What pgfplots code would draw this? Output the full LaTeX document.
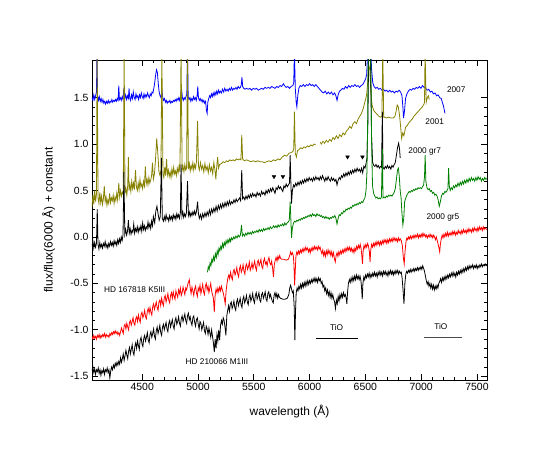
\documentclass[border=0pt]{standalone}
\usepackage{fontspec}
\setmainfont{Liberation Sans}
\usepackage{pgfplots}
\pgfplotsset{compat=1.18}
\definecolor{olivec}{RGB}{135,130,0}
\definecolor{greenc}{RGB}{0,128,0}
\begin{document}
\begin{tikzpicture}
\begin{axis}[
  name=ax, at={(0,0)}, anchor=south west,
  scale only axis, width=395bp, height=320bp,
  xmin=4050, xmax=7590, ymin=-1.54, ymax=1.905,
  xtick={4500,5000,5500,6000,6500,7000,7500},
  ytick={-1.5,-1.0,-0.5,0,0.5,1.0,1.5},
  minor x tick num=4, minor y tick num=4,
  tick align=inside, xtick pos=both, ytick pos=both,
  major tick length=6bp, minor tick length=3.5bp,
  tick style={black, line width=0.8pt},
  axis line style={line width=1pt},
  /pgf/number format/assume math mode=true,
  xticklabel style={/pgf/number format/set thousands separator={}, font=\fontsize{10.5}{12}\selectfont},
  yticklabel style={/pgf/number format/fixed, /pgf/number format/fixed zerofill, /pgf/number format/precision=1, font=\fontsize{10.5}{12}\selectfont},
  xlabel={wavelength (Å)}, ylabel={flux/flux(6000 Å) + constant},
  xlabel style={font=\fontsize{12}{14}\selectfont, at={(axis description cs:0.5,-0.1)}, anchor=center},
  ylabel style={font=\fontsize{12}{14}\selectfont, at={(axis description cs:-0.11,0.5)}, anchor=center},
  unbounded coords=jump,
  every axis plot/.append style={line width=0.8pt},
]
% 2007 (blue)
\addplot[blue] coordinates {
(4050,1.50) (4058,1.47) (4066,1.53) (4074,1.48) (4082,1.52) (4090,1.56) (4095,2.00) (4100,1.52) (4108,1.47) (4116,1.51)
(4124,1.46) (4132,1.49) (4140,1.45) (4148,1.48) (4156,1.44) (4164,1.46) (4172,1.43) (4180,1.46) (4188,1.44) (4196,1.47)
(4204,1.44) (4212,1.46) (4220,1.45) (4228,1.48) (4236,1.45) (4244,1.47) (4252,1.46) (4260,1.48) (4268,1.46) (4276,1.49)
(4284,1.47) (4290,1.63) (4296,1.48) (4304,1.50) (4312,1.47) (4320,1.51) (4328,1.48) (4336,1.60) (4344,1.49) (4352,1.53)
(4360,1.48) (4368,1.52) (4376,1.49) (4382,1.60) (4388,1.50) (4396,1.47) (4404,1.53) (4412,1.49) (4420,1.56) (4428,1.50)
(4436,1.48) (4444,1.54) (4452,1.50) (4460,1.52) (4468,1.48) (4476,1.53) (4484,1.50) (4492,1.55) (4500,1.51) (4508,1.49)
(4516,1.54) (4524,1.50) (4532,1.53) (4540,1.51) (4548,1.55) (4556,1.52) (4564,1.50) (4572,1.54) (4580,1.52) (4588,1.56)
(4596,1.55) (4604,1.60) (4612,1.66) (4620,1.74) (4628,1.80) (4636,1.77) (4644,1.65) (4652,1.56) (4660,1.52) (4668,1.50)
(4676,1.58) (4684,1.50) (4692,1.47) (4700,1.49) (4708,1.45) (4716,1.47) (4724,1.44) (4732,1.46) (4740,1.45) (4748,1.47)
(4756,1.44) (4764,1.46) (4772,1.45) (4780,1.47) (4788,1.46) (4796,1.48) (4804,1.46) (4812,1.49) (4820,1.47) (4828,1.50)
(4836,1.47) (4844,1.52) (4852,1.60) (4860,1.50) (4868,1.47) (4876,1.50) (4884,1.48) (4892,1.51) (4900,1.54) (4906,2.00)
(4912,1.51) (4920,1.48) (4928,1.50) (4936,1.46) (4944,1.49) (4952,1.47) (4960,1.51) (4968,1.48) (4976,1.50) (4984,1.47)
(4992,1.52) (4998,1.62) (5004,1.50) (5012,1.47) (5020,1.49) (5028,1.46) (5036,1.48) (5044,1.45) (5052,1.47) (5060,1.44)
(5068,1.46) (5076,1.36) (5082,1.33) (5088,1.45) (5096,1.49) (5104,1.52) (5112,1.50) (5120,1.54) (5128,1.51) (5136,1.55)
(5144,1.52) (5152,1.56) (5160,1.53) (5168,1.57) (5176,1.54) (5184,1.58) (5192,1.55) (5200,1.57) (5210,1.55) (5220,1.59)
(5230,1.56) (5240,1.60) (5250,1.57) (5260,1.59) (5270,1.57) (5280,1.60) (5290,1.58) (5300,1.61) (5310,1.58) (5320,1.60)
(5330,1.59) (5340,1.61) (5350,1.59) (5360,1.62) (5370,1.60) (5380,1.61) (5388,1.64) (5394,1.72) (5400,1.62) (5410,1.60)
(5420,1.59) (5435,1.60) (5450,1.59) (5465,1.60) (5480,1.58) (5495,1.60) (5510,1.59) (5525,1.60) (5540,1.58) (5555,1.59)
(5570,1.60) (5585,1.59) (5600,1.61) (5615,1.60) (5630,1.61) (5645,1.60) (5660,1.62) (5675,1.61) (5690,1.60) (5705,1.62)
(5720,1.61) (5735,1.63) (5750,1.62) (5765,1.65) (5775,1.63) (5790,1.61) (5805,1.62) (5820,1.60) (5835,1.62) (5850,1.63)
(5858,1.66) (5864,2.00) (5872,1.60) (5880,1.45) (5886,1.40) (5894,1.52) (5904,1.60) (5916,1.63) (5930,1.62) (5944,1.64)
(5958,1.62) (5972,1.64) (5986,1.63) (6000,1.65) (6014,1.63) (6028,1.64) (6042,1.62) (6056,1.64) (6070,1.62) (6084,1.60)
(6098,1.58) (6112,1.56) (6126,1.55) (6140,1.57) (6154,1.54) (6168,1.56) (6182,1.54) (6196,1.56) (6210,1.53) (6224,1.55)
(6236,1.52) (6246,1.47) (6256,1.53) (6268,1.57) (6280,1.58) (6294,1.60) (6308,1.59) (6322,1.62) (6336,1.60) (6350,1.63)
(6364,1.61) (6378,1.63) (6392,1.62) (6406,1.64) (6420,1.62) (6434,1.63) (6448,1.61) (6462,1.63) (6476,1.64) (6490,1.67)
(6502,1.70) (6512,1.75) (6520,2.00) (6548,2.00) (6556,1.80) (6566,1.66) (6578,1.62) (6592,1.60) (6606,1.61) (6620,1.59)
(6634,1.60) (6648,1.58) (6662,1.59) (6676,1.57) (6690,1.58) (6704,1.56) (6718,1.58) (6732,1.56) (6746,1.57) (6760,1.55)
(6774,1.57) (6788,1.56) (6802,1.58) (6816,1.56) (6828,1.52) (6836,1.40) (6842,1.28) (6850,1.35) (6860,1.49) (6872,1.54)
(6886,1.57) (6900,1.59) (6914,1.58) (6928,1.60) (6942,1.59) (6956,1.61) (6970,1.60) (6984,1.62) (6998,1.60) (7012,1.63)
(7026,1.61) (7040,1.60) (7054,1.58) (7068,1.59) (7082,1.56) (7096,1.57) (7110,1.54) (7124,1.55) (7138,1.52) (7152,1.53)
(7166,1.50) (7180,1.49) (7192,1.44) (7200,1.41) (7208,1.36) (7214,1.33)
};
% 2001 (olive)
\addplot[olivec] coordinates {
(4050,0.32) (4058,0.45) (4066,0.35) (4074,0.50) (4082,0.38) (4090,0.46) (4096,2.00) (4104,0.42) (4112,0.36) (4120,0.48)
(4128,0.37) (4136,0.44) (4144,0.35) (4152,0.41) (4160,0.55) (4168,0.38) (4176,0.43) (4184,0.34) (4192,0.40) (4200,0.36)
(4208,0.47) (4216,0.37) (4224,0.42) (4232,0.39) (4240,0.45) (4248,0.36) (4256,0.43) (4264,0.39) (4272,0.47) (4280,0.40)
(4290,0.58) (4298,0.43) (4306,0.50) (4314,0.44) (4322,0.48) (4330,0.46) (4338,2.00) (4346,0.47) (4354,0.52) (4362,0.45)
(4370,0.55) (4376,0.86) (4382,0.50) (4390,0.56) (4398,0.49) (4406,0.60) (4414,0.52) (4422,0.58) (4430,0.51) (4440,0.72)
(4448,0.54) (4456,0.50) (4464,0.58) (4472,0.51) (4480,0.62) (4488,0.54) (4496,0.57) (4504,0.52) (4512,0.60) (4520,0.55)
(4528,0.76) (4536,0.57) (4544,0.62) (4552,0.56) (4560,0.64) (4568,0.58) (4576,0.61) (4584,0.66) (4592,0.80) (4600,0.62)
(4610,0.68) (4620,0.85) (4630,1.06) (4640,0.90) (4650,0.70) (4660,0.66) (4668,0.72) (4676,2.00) (4686,0.68) (4694,0.64)
(4702,0.75) (4710,0.66) (4718,0.84) (4726,0.67) (4734,0.72) (4742,0.65) (4750,0.70) (4758,0.64) (4766,0.73) (4774,0.67)
(4782,0.75) (4790,0.68) (4798,0.71) (4806,0.66) (4814,0.74) (4822,0.69) (4830,0.76) (4838,0.70) (4848,2.00) (4858,0.72)
(4866,0.76) (4874,0.70) (4882,0.78) (4890,0.72) (4898,0.74) (4906,2.00) (4914,0.73) (4922,0.79) (4930,0.71) (4938,0.77)
(4946,0.73) (4954,0.80) (4962,0.72) (4970,0.78) (4978,0.74) (4986,0.81) (4996,1.25) (5004,0.76) (5012,0.72) (5022,0.80)
(5032,0.73) (5042,0.77) (5052,0.70) (5062,0.79) (5072,0.72) (5082,0.76) (5092,0.69) (5102,0.78) (5112,0.71) (5122,0.75)
(5132,0.68) (5142,0.80) (5152,0.72) (5160,0.62) (5168,0.76) (5176,0.86) (5184,0.74) (5194,0.78) (5210,0.79) (5225,0.81)
(5240,0.80) (5255,0.82) (5270,0.81) (5285,0.83) (5300,0.82) (5315,0.83) (5330,0.82) (5345,0.84) (5360,0.83) (5375,0.84)
(5385,0.83) (5392,1.10) (5400,0.84) (5415,0.82) (5435,0.83) (5455,0.82) (5475,0.81) (5495,0.82) (5515,0.81) (5535,0.82)
(5555,0.81) (5575,0.81) (5595,0.80) (5615,0.81) (5635,0.82) (5655,0.81) (5675,0.83) (5695,0.82) (5715,0.84) (5735,0.83)
(5755,0.86) (5775,0.88) (5795,0.87) (5815,0.90) (5835,0.91) (5850,0.92) (5858,0.95) (5864,1.35) (5872,0.90) (5882,0.86)
(5892,0.93) (5905,0.94) (5920,0.96) (5935,0.95) (5950,0.97) (5965,0.96) (5980,0.98) (5995,0.97) (6010,0.99) (6025,0.98)
(6040,1.00) (6055,0.99) (6075,nan) (6095,1.02) (6105,1.00) (6120,1.03) (6135,1.01) (6150,1.04) (6165,1.02) (6180,1.05)
(6195,1.03) (6210,1.07) (6225,1.05) (6240,1.09) (6255,1.06) (6270,1.10) (6285,1.08) (6300,1.12) (6315,1.10) (6330,1.14)
(6345,1.16) (6360,1.19) (6375,1.17) (6390,1.22) (6405,1.24) (6420,1.22) (6435,1.27) (6450,1.30) (6465,1.33) (6480,1.38)
(6495,1.45) (6510,1.52) (6520,1.65) (6530,1.85) (6540,1.80) (6550,1.55) (6560,1.42) (6575,1.36) (6590,1.34) (6605,1.32)
(6620,1.30) (6635,1.29) (6648,1.30) (6656,2.00) (6664,1.29) (6675,1.29) (6690,1.28) (6710,1.29) (6730,1.28) (6750,1.28)
(6765,1.30) (6775,1.35) (6785,1.42) (6795,1.40) (6805,1.32) (6815,1.20) (6825,1.06) (6835,1.12) (6845,1.09) (6860,1.18)
(6875,1.20) (6890,1.23) (6905,1.25) (6920,1.27) (6935,1.30) (6950,1.32) (6965,1.34) (6980,1.36) (6995,1.38) (7010,1.40)
(7025,1.43) (7030,1.45) (7035,2.00) (7045,1.45) (7055,1.50) (7065,1.52) (7072,1.48)
};
% 2000 gr7 (black)
\addplot[black] coordinates {
(4050,-0.10) (4058,-0.04) (4066,-0.12) (4074,-0.06) (4082,-0.11) (4090,-0.07) (4097,0.30) (4104,-0.08) (4112,-0.13) (4120,-0.06)
(4128,-0.11) (4136,-0.08) (4144,-0.12) (4152,-0.07) (4160,-0.10) (4168,-0.05) (4176,-0.11) (4184,-0.08) (4192,-0.12) (4200,-0.07)
(4208,-0.10) (4216,-0.05) (4224,-0.09) (4232,-0.06) (4240,-0.10) (4248,-0.04) (4256,-0.08) (4264,-0.05) (4272,-0.09) (4280,-0.03)
(4288,-0.07) (4296,-0.02) (4304,-0.06) (4312,0.00) (4320,-0.04) (4328,0.02) (4336,0.70) (4344,0.03) (4352,0.08) (4360,0.02)
(4368,0.06) (4376,0.18) (4384,0.04) (4392,0.09) (4400,0.03) (4408,0.07) (4416,0.05) (4424,0.14) (4432,0.04) (4440,0.09)
(4448,0.06) (4456,0.11) (4464,0.05) (4472,0.10) (4480,0.07) (4488,0.12) (4496,0.06) (4504,0.15) (4512,0.08) (4520,0.12)
(4528,0.07) (4536,0.11) (4544,0.09) (4552,0.16) (4560,0.10) (4568,0.14) (4576,0.09) (4584,0.17) (4592,0.12) (4600,0.22)
(4612,0.15) (4622,0.28) (4632,0.33) (4642,0.25) (4652,0.18) (4662,0.22) (4672,0.85) (4680,0.20) (4690,0.17) (4698,0.22)
(4706,0.18) (4714,0.24) (4722,0.19) (4730,0.21) (4738,0.17) (4746,0.23) (4754,0.19) (4762,0.22) (4770,0.18) (4778,0.24)
(4786,0.20) (4794,0.23) (4802,0.19) (4810,0.25) (4818,0.21) (4826,0.24) (4834,0.20) (4842,0.26) (4848,0.78) (4856,0.22)
(4864,0.27) (4872,0.21) (4880,0.25) (4888,0.22) (4896,0.26) (4906,0.60) (4914,0.23) (4922,0.27) (4930,0.22) (4938,0.26)
(4946,0.23) (4954,0.27) (4962,0.24) (4970,0.28) (4978,0.24) (4986,0.27) (4996,0.38) (5004,0.25) (5012,0.20) (5022,0.24)
(5032,0.19) (5042,0.25) (5052,0.21) (5062,0.26) (5072,0.22) (5082,0.27) (5092,0.23) (5102,0.29) (5112,0.24) (5122,0.30)
(5132,0.26) (5142,0.31) (5152,0.27) (5162,0.33) (5172,0.28) (5182,0.34) (5192,0.30) (5202,0.35) (5212,0.31) (5222,0.36)
(5232,0.32) (5242,0.37) (5252,0.33) (5262,0.38) (5272,0.34) (5282,0.39) (5292,0.35) (5302,0.38) (5312,0.36) (5322,0.40)
(5332,0.37) (5342,0.41) (5352,0.38) (5362,0.40) (5372,0.42) (5382,0.39) (5392,0.72) (5400,0.41) (5410,0.43) (5420,0.40)
(5430,0.44) (5440,0.41) (5450,0.45) (5460,0.42) (5470,0.46) (5480,0.43) (5490,0.47) (5500,0.44) (5510,0.46) (5520,0.43)
(5530,0.48) (5540,0.45) (5550,0.47) (5560,0.44) (5570,0.49) (5580,0.46) (5590,0.48) (5600,0.45) (5610,0.50) (5620,0.47)
(5630,0.51) (5640,0.48) (5650,0.52) (5660,0.49) (5670,0.53) (5680,0.50) (5690,0.47) (5700,0.53) (5710,0.51) (5720,0.55)
(5730,0.52) (5740,0.54) (5750,0.51) (5760,0.49) (5770,0.55) (5780,0.53) (5790,0.57) (5800,0.54) (5810,0.56) (5820,0.58)
(5826,0.88) (5832,0.60) (5838,0.36) (5846,0.50) (5856,0.56) (5866,0.54) (5876,0.58) (5886,0.55) (5896,0.59) (5906,0.56)
(5916,0.60) (5926,0.57) (5936,0.61) (5946,0.58) (5956,0.62) (5966,0.59) (5976,0.63) (5986,0.60) (5996,0.64) (6006,0.61)
(6016,0.63) (6026,0.60) (6036,0.64) (6046,0.61) (6056,0.65) (6066,0.62) (6076,0.64) (6086,0.61) (6096,0.65) (6106,0.62)
(6116,0.66) (6126,0.63) (6136,0.60) (6146,0.64) (6156,0.61) (6166,0.65) (6176,0.62) (6186,0.60) (6196,0.64) (6206,0.61)
(6216,0.63) (6226,0.60) (6236,0.62) (6246,0.56) (6256,0.61) (6266,0.64) (6276,0.62) (6286,0.66) (6296,0.64) (6306,0.68)
(6316,0.65) (6326,0.69) (6336,0.66) (6346,0.70) (6356,0.67) (6366,0.71) (6376,0.68) (6386,0.72) (6396,0.69) (6406,0.73)
(6416,0.70) (6426,0.74) (6436,0.71) (6446,0.73) (6456,0.70) (6466,0.74) (6476,0.69) (6486,0.76) (6496,0.74) (6506,0.79)
(6514,0.85) (6522,1.20) (6530,2.00) (6545,2.00) (6555,1.10) (6565,0.80) (6575,0.77) (6585,0.76) (6595,0.78) (6605,0.75)
(6615,0.77) (6625,0.74) (6635,0.76) (6645,0.75) (6652,1.35) (6658,0.75) (6668,0.73) (6678,0.76) (6688,0.74) (6698,0.77)
(6708,0.74) (6718,0.76) (6728,0.73) (6738,0.77) (6748,0.75) (6758,0.78) (6768,0.80) (6778,0.88) (6788,0.96) (6798,1.01)
(6806,0.95) (6812,0.85)
};
% 2000 gr5 (green)
\addplot[greenc] coordinates {
(5085,-0.38) (5092,-0.32) (5100,-0.35) (5108,-0.28) (5116,-0.31) (5124,-0.24) (5132,-0.27) (5140,-0.21) (5148,-0.25) (5156,-0.18)
(5164,-0.22) (5172,-0.15) (5180,-0.19) (5188,-0.12) (5196,-0.15) (5204,-0.10) (5212,-0.13) (5220,-0.07) (5228,-0.11) (5236,-0.06)
(5244,-0.09) (5252,-0.04) (5260,-0.07) (5268,-0.03) (5276,-0.06) (5284,-0.02) (5292,-0.05) (5300,-0.01) (5310,-0.03) (5320,0.00)
(5330,-0.02) (5340,0.01) (5350,-0.01) (5360,0.02) (5370,0.00) (5380,0.02) (5390,0.13) (5398,0.01) (5408,0.03) (5418,0.01)
(5428,0.04) (5438,0.02) (5448,0.05) (5458,0.03) (5468,0.05) (5478,0.03) (5488,0.06) (5498,0.04) (5508,0.06) (5518,0.05)
(5528,0.07) (5538,0.05) (5548,0.08) (5558,0.06) (5568,0.08) (5578,0.06) (5588,0.09) (5598,0.07) (5608,0.09) (5618,0.08)
(5628,0.10) (5638,0.08) (5648,0.11) (5658,0.09) (5668,0.10) (5678,0.12) (5688,0.10) (5698,0.12) (5708,0.10) (5718,0.13)
(5728,0.11) (5738,0.13) (5748,0.12) (5758,0.14) (5768,0.12) (5778,0.15) (5788,0.13) (5798,0.15) (5808,0.16) (5818,0.18)
(5826,0.38) (5832,0.20) (5838,-0.01) (5846,0.10) (5856,0.15) (5866,0.17) (5876,0.16) (5886,0.18) (5896,0.17) (5906,0.19)
(5916,0.18) (5926,0.20) (5936,0.19) (5946,0.21) (5956,0.20) (5966,0.22) (5976,0.21) (5986,0.23) (5996,0.22) (6006,0.24)
(6016,0.22) (6026,0.25) (6036,0.23) (6046,0.24) (6056,0.22) (6066,0.25) (6076,0.23) (6086,0.24) (6096,0.22) (6106,0.23)
(6116,0.21) (6126,0.22) (6136,0.20) (6146,0.22) (6156,0.20) (6166,0.21) (6176,0.19) (6186,0.21) (6196,0.20) (6206,0.22)
(6216,0.21) (6226,0.23) (6236,0.20) (6246,0.14) (6256,0.20) (6266,0.24) (6276,0.23) (6286,0.26) (6296,0.25) (6306,0.28)
(6316,0.27) (6326,0.30) (6336,0.29) (6346,0.31) (6356,0.30) (6366,0.32) (6376,0.31) (6386,0.34) (6396,0.33) (6406,0.35)
(6416,0.34) (6426,0.36) (6436,0.35) (6446,0.37) (6456,0.36) (6466,0.38) (6476,0.37) (6486,0.40) (6496,0.42) (6506,0.50)
(6514,0.70) (6520,1.20) (6526,2.00) (6548,2.00) (6556,1.00) (6564,0.55) (6574,0.47) (6584,0.44) (6594,0.42) (6604,0.43)
(6614,0.41) (6624,0.42) (6634,0.41) (6644,0.43) (6652,0.95) (6658,0.42) (6668,0.43) (6678,0.42) (6688,0.44) (6698,0.43)
(6708,0.45) (6718,0.44) (6728,0.45) (6738,0.44) (6748,0.46) (6758,0.48) (6768,0.52) (6778,0.62) (6788,0.72) (6796,0.74)
(6804,0.65) (6812,0.50) (6820,0.42) (6828,0.25) (6836,0.13) (6844,0.20) (6852,0.38) (6862,0.42) (6872,0.45) (6882,0.47)
(6892,0.49) (6902,0.48) (6912,0.50) (6922,0.49) (6932,0.51) (6942,0.50) (6952,0.52) (6962,0.51) (6972,0.53) (6982,0.52)
(6992,0.53) (7002,0.52) (7012,0.54) (7022,0.56) (7030,0.65) (7036,0.88) (7042,0.60) (7052,0.53) (7062,0.51) (7072,0.52)
(7082,0.49) (7092,0.50) (7102,0.47) (7112,0.48) (7122,0.45) (7132,0.46) (7142,0.44) (7152,0.40) (7162,0.33) (7172,0.38)
(7182,0.44) (7192,0.47) (7202,0.46) (7212,0.49) (7222,0.48) (7232,0.50) (7240,0.52) (7246,0.74) (7252,0.55) (7260,0.50)
(7270,0.53) (7280,0.51) (7290,0.55) (7300,0.53) (7310,0.56) (7320,0.54) (7330,0.58) (7340,0.55) (7350,0.59) (7360,0.56)
(7370,0.60) (7380,0.57) (7390,0.61) (7400,0.58) (7410,0.62) (7420,0.59) (7430,0.63) (7440,0.60) (7450,0.64) (7460,0.61)
(7470,0.63) (7480,0.60) (7490,0.64) (7500,0.61) (7510,0.65) (7520,0.62) (7530,0.64) (7540,0.60) (7550,0.63) (7560,0.61)
(7570,0.64) (7580,0.62) (7590,0.63)
};
% HD 167818 K5III (red)
\addplot[red] coordinates {
(4050,-1.07) (4058,-1.10) (4066,-1.06) (4074,-1.09) (4082,-1.07) (4090,-1.10) (4098,-1.06) (4106,-1.08) (4114,-1.05) (4122,-1.09)
(4130,-1.06) (4138,-1.08) (4146,-1.05) (4154,-1.07) (4162,-1.04) (4170,-1.08) (4178,-1.05) (4186,-1.07) (4194,-1.06) (4202,-1.08)
(4210,-1.04) (4218,-1.06) (4226,-1.03) (4234,-1.05) (4242,-1.02) (4250,-1.04) (4258,-1.01) (4266,-1.04) (4274,-1.02) (4282,-1.05)
(4290,-1.03) (4298,-1.06) (4306,-1.02) (4314,-0.98) (4322,-1.01) (4330,-1.04) (4338,-0.96) (4346,-0.94) (4354,-0.99) (4362,-0.93)
(4370,-0.97) (4378,-1.00) (4386,-0.92) (4394,-0.90) (4402,-0.95) (4410,-0.91) (4418,-0.87) (4426,-0.93) (4434,-0.95) (4442,-0.88)
(4450,-0.86) (4458,-0.91) (4466,-0.84) (4474,-0.89) (4482,-0.92) (4490,-0.83) (4498,-0.81) (4506,-0.87) (4514,-0.84) (4522,-0.79)
(4530,-0.86) (4538,-0.88) (4546,-0.80) (4554,-0.77) (4562,-0.82) (4570,-0.76) (4578,-0.81) (4586,-0.84) (4594,-0.75) (4602,-0.72)
(4610,-0.78) (4618,-0.74) (4626,-0.70) (4634,-0.76) (4642,-0.79) (4650,-0.70) (4658,-0.68) (4666,-0.74) (4674,-0.66) (4682,-0.71)
(4690,-0.74) (4698,-0.65) (4706,-0.63) (4714,-0.70) (4722,-0.66) (4730,-0.61) (4738,-0.68) (4746,-0.71) (4754,-0.63) (4762,-0.60)
(4770,-0.66) (4778,-0.59) (4786,-0.64) (4794,-0.67) (4802,-0.58) (4810,-0.62) (4818,-0.65) (4826,-0.57) (4834,-0.61) (4842,-0.55)
(4850,-0.63) (4858,-0.60) (4866,-0.54) (4874,-0.58) (4882,-0.62) (4890,-0.55) (4898,-0.57) (4906,-0.52) (4914,-0.49) (4922,-0.46)
(4930,-0.55) (4938,-0.61) (4946,-0.54) (4954,-0.58) (4962,-0.63) (4970,-0.56) (4978,-0.53) (4986,-0.60) (4994,-0.64) (5002,-0.55)
(5010,-0.58) (5018,-0.52) (5026,-0.61) (5034,-0.56) (5042,-0.51) (5050,-0.59) (5058,-0.62) (5066,-0.53) (5074,-0.50) (5082,-0.57)
(5090,-0.53) (5098,-0.60) (5106,-0.55) (5114,-0.50) (5122,-0.58) (5130,-0.62) (5138,-0.66) (5146,-0.81) (5154,-0.62) (5162,-0.56)
(5170,-0.60) (5178,-0.55) (5186,-0.59) (5194,-0.54) (5202,-0.58) (5210,-0.53) (5218,-0.57) (5226,-0.60) (5236,-0.66) (5244,-0.72)
(5252,-0.58) (5260,-0.50) (5268,-0.44) (5276,-0.41) (5284,-0.45) (5292,-0.38) (5300,-0.43) (5308,-0.46) (5316,-0.37) (5324,-0.35)
(5332,-0.41) (5340,-0.38) (5348,-0.33) (5356,-0.40) (5364,-0.43) (5372,-0.34) (5380,-0.31) (5388,-0.38) (5396,-0.35) (5404,-0.30)
(5412,-0.37) (5420,-0.40) (5428,-0.31) (5436,-0.29) (5444,-0.35) (5452,-0.32) (5460,-0.27) (5468,-0.36) (5476,-0.33) (5484,-0.28)
(5492,-0.34) (5500,-0.30) (5508,-0.26) (5516,-0.33) (5524,-0.36) (5532,-0.27) (5540,-0.25) (5548,-0.31) (5556,-0.28) (5564,-0.24)
(5572,-0.32) (5580,-0.34) (5588,-0.26) (5596,-0.23) (5604,-0.29) (5612,-0.27) (5620,-0.31) (5628,-0.25) (5636,-0.22) (5644,-0.28)
(5652,-0.30) (5660,-0.26) (5668,-0.33) (5676,-0.43) (5684,-0.30) (5692,-0.25) (5700,-0.22) (5708,-0.26) (5716,-0.21) (5724,-0.24)
(5732,-0.20) (5740,-0.23) (5750,-0.24) (5770,-0.24) (5790,-0.25) (5810,-0.24) (5822,-0.20) (5830,-0.16) (5838,-0.19) (5846,-0.17)
(5854,-0.20) (5860,-0.30) (5866,-0.52) (5872,-0.35) (5878,-0.20) (5886,-0.16) (5894,-0.19) (5902,-0.15) (5910,-0.18) (5918,-0.14)
(5926,-0.17) (5934,-0.13) (5942,-0.16) (5950,-0.12) (5958,-0.15) (5966,-0.11) (5974,-0.14) (5982,-0.12) (5990,-0.16) (5998,-0.13)
(6006,-0.17) (6014,-0.12) (6022,-0.15) (6030,-0.11) (6038,-0.14) (6046,-0.10) (6054,-0.13) (6062,-0.11) (6070,-0.14) (6078,-0.10)
(6086,-0.13) (6094,-0.11) (6102,-0.15) (6110,-0.18) (6118,-0.14) (6126,-0.20) (6134,-0.16) (6142,-0.21) (6150,-0.15) (6158,-0.19)
(6166,-0.14) (6174,-0.18) (6182,-0.15) (6190,-0.20) (6198,-0.16) (6206,-0.21) (6214,-0.17) (6222,-0.23) (6230,-0.27) (6238,-0.20)
(6246,-0.17) (6254,-0.21) (6262,-0.16) (6270,-0.19) (6278,-0.15) (6286,-0.18) (6294,-0.14) (6302,-0.17) (6310,-0.13) (6318,-0.16)
(6326,-0.12) (6334,-0.15) (6342,-0.11) (6350,-0.14) (6358,-0.11) (6366,-0.15) (6374,-0.12) (6382,-0.16) (6390,-0.13) (6398,-0.17)
(6406,-0.12) (6414,-0.15) (6422,-0.10) (6430,-0.13) (6438,-0.09) (6446,-0.12) (6454,-0.08) (6462,-0.13) (6468,-0.20) (6474,-0.29)
(6480,-0.15) (6488,-0.09) (6496,-0.12) (6504,-0.08) (6512,-0.11) (6520,-0.07) (6528,-0.10) (6536,-0.16) (6542,-0.27) (6548,-0.14)
(6556,-0.08) (6564,-0.11) (6572,-0.07) (6580,-0.10) (6588,-0.06) (6596,-0.09) (6604,-0.05) (6612,-0.08) (6620,-0.05) (6628,-0.09)
(6636,-0.05) (6644,-0.08) (6652,-0.04) (6660,-0.07) (6668,-0.03) (6676,-0.06) (6684,-0.03) (6692,-0.07) (6700,-0.03) (6708,-0.06)
(6716,-0.02) (6724,-0.05) (6732,-0.02) (6740,-0.05) (6748,-0.01) (6756,-0.04) (6764,-0.01) (6772,-0.04) (6780,-0.02) (6788,-0.05)
(6796,-0.01) (6804,-0.04) (6812,-0.02) (6822,-0.04) (6832,-0.10) (6840,-0.22) (6848,-0.29) (6856,-0.15) (6864,-0.05) (6872,-0.01)
(6880,-0.03) (6888,0.00) (6896,-0.02) (6904,0.01) (6912,-0.02) (6920,0.01) (6928,-0.01) (6936,0.02) (6944,-0.01) (6952,0.02)
(6960,0.00) (6968,0.03) (6976,-0.01) (6984,0.02) (6992,0.00) (7000,0.03) (7008,0.00) (7016,0.04) (7024,0.01) (7032,0.03)
(7040,0.00) (7048,0.02) (7056,-0.01) (7064,0.02) (7072,0.00) (7080,0.03) (7088,0.00) (7096,0.02) (7104,-0.01) (7112,0.02)
(7120,0.00) (7128,-0.03) (7136,0.00) (7144,-0.04) (7152,-0.08) (7160,-0.12) (7166,-0.16) (7172,-0.08) (7180,-0.02) (7188,0.02)
(7196,-0.01) (7204,0.03) (7212,0.00) (7220,0.04) (7228,0.01) (7236,0.05) (7244,0.01) (7252,0.04) (7260,0.02) (7268,0.05)
(7276,0.02) (7284,0.06) (7292,0.03) (7300,0.06) (7308,0.02) (7316,0.05) (7324,0.03) (7332,0.07) (7340,0.04) (7348,0.06)
(7356,0.03) (7364,0.07) (7372,0.04) (7380,0.08) (7388,0.05) (7396,0.07) (7404,0.04) (7412,0.08) (7420,0.05) (7428,0.09)
(7436,0.06) (7444,0.08) (7452,0.05) (7460,0.09) (7468,0.06) (7476,0.10) (7484,0.07) (7492,0.09) (7500,0.06) (7508,0.10)
(7516,0.07) (7524,0.11) (7532,0.08) (7540,0.10) (7548,0.07) (7556,0.11) (7564,0.08) (7572,0.10) (7580,0.09) (7590,0.08)
};
% HD 210066 M1III (black)
\addplot[black] coordinates {
(4050,-1.44) (4058,-1.40) (4066,-1.46) (4074,-1.42) (4082,-1.48) (4090,-1.43) (4098,-1.45) (4106,-1.41) (4114,-1.47) (4122,-1.43)
(4130,-1.49) (4138,-1.44) (4146,-1.46) (4154,-1.42) (4162,-1.48) (4170,-1.43) (4178,-1.45) (4186,-1.41) (4194,-1.46) (4202,-1.43)
(4210,-1.52) (4218,-1.44) (4226,-1.40) (4234,-1.43) (4242,-1.38) (4250,-1.41) (4258,-1.36) (4266,-1.39) (4274,-1.35) (4282,-1.38)
(4290,-1.34) (4298,-1.37) (4306,-1.30) (4314,-1.35) (4322,-1.31) (4330,-1.26) (4338,-1.33) (4346,-1.28) (4354,-1.22) (4362,-1.27)
(4370,-1.31) (4378,-1.23) (4386,-1.19) (4394,-1.26) (4402,-1.21) (4410,-1.16) (4418,-1.24) (4426,-1.27) (4434,-1.18) (4442,-1.14)
(4450,-1.20) (4458,-1.12) (4466,-1.17) (4474,-1.21) (4482,-1.11) (4490,-1.08) (4498,-1.15) (4506,-1.18) (4514,-1.09) (4522,-1.06)
(4530,-1.12) (4538,-1.08) (4546,-1.03) (4554,-1.11) (4562,-1.14) (4570,-1.05) (4578,-1.02) (4586,-1.08) (4594,-1.04) (4602,-0.99)
(4610,-1.07) (4618,-1.10) (4626,-1.01) (4634,-0.97) (4642,-1.04) (4650,-1.00) (4658,-0.95) (4666,-1.03) (4674,-1.06) (4682,-0.97)
(4690,-0.94) (4698,-1.00) (4706,-0.96) (4714,-0.92) (4722,-0.99) (4730,-1.02) (4738,-0.93) (4746,-0.90) (4754,-0.97) (4762,-0.93)
(4770,-0.89) (4778,-0.96) (4786,-0.99) (4794,-0.90) (4802,-0.87) (4810,-0.94) (4818,-0.91) (4826,-0.86) (4834,-0.93) (4842,-0.96)
(4850,-0.88) (4858,-0.85) (4866,-0.91) (4874,-0.87) (4882,-0.83) (4890,-0.90) (4898,-0.93) (4906,-0.85) (4914,-0.82) (4922,-0.89)
(4930,-0.86) (4938,-0.92) (4946,-0.95) (4954,-0.87) (4962,-0.85) (4970,-0.92) (4978,-0.96) (4986,-0.89) (4994,-0.87) (5002,-0.94)
(5010,-0.99) (5018,-0.91) (5026,-0.93) (5034,-1.00) (5042,-0.96) (5050,-0.92) (5058,-1.01) (5066,-1.04) (5074,-0.96) (5082,-0.99)
(5090,-1.05) (5098,-0.98) (5106,-1.03) (5114,-1.08) (5122,-1.00) (5130,-1.07) (5138,-1.14) (5146,-1.24) (5154,-1.10) (5162,-1.20)
(5170,-1.05) (5178,-1.12) (5186,-1.00) (5194,-1.11) (5202,-0.95) (5210,-0.90) (5218,-0.94) (5226,-0.87) (5234,-0.90) (5242,-0.97)
(5250,-1.06) (5258,-0.85) (5266,-0.79) (5274,-0.74) (5282,-0.80) (5290,-0.72) (5298,-0.70) (5306,-0.77) (5314,-0.74) (5322,-0.69)
(5330,-0.76) (5338,-0.79) (5346,-0.70) (5354,-0.67) (5362,-0.74) (5370,-0.70) (5378,-0.66) (5386,-0.73) (5394,-0.76) (5402,-0.67)
(5410,-0.64) (5418,-0.71) (5426,-0.68) (5434,-0.63) (5442,-0.70) (5450,-0.73) (5458,-0.65) (5466,-0.62) (5474,-0.69) (5482,-0.66)
(5490,-0.61) (5498,-0.68) (5506,-0.71) (5514,-0.63) (5522,-0.60) (5530,-0.67) (5538,-0.64) (5546,-0.60) (5554,-0.68) (5562,-0.70)
(5570,-0.62) (5578,-0.60) (5586,-0.66) (5594,-0.63) (5602,-0.59) (5610,-0.67) (5618,-0.69) (5626,-0.61) (5634,-0.59) (5642,-0.65)
(5650,-0.62) (5658,-0.66) (5666,-0.69) (5674,-0.71) (5682,-0.63) (5690,-0.60) (5698,-0.65) (5706,-0.61) (5714,-0.66) (5722,-0.62)
(5730,-0.65) (5740,-0.66) (5760,-0.67) (5780,-0.67) (5800,-0.66) (5814,-0.62) (5822,-0.55) (5830,-0.52) (5838,-0.56) (5846,-0.60)
(5854,-0.58) (5862,-0.75) (5868,-1.11) (5874,-0.80) (5880,-0.60) (5888,-0.55) (5896,-0.58) (5904,-0.53) (5912,-0.56) (5920,-0.51)
(5928,-0.55) (5936,-0.50) (5944,-0.54) (5952,-0.49) (5960,-0.53) (5968,-0.48) (5976,-0.52) (5984,-0.47) (5992,-0.51) (6000,-0.47)
(6008,-0.50) (6016,-0.46) (6024,-0.49) (6032,-0.45) (6040,-0.48) (6048,-0.44) (6056,-0.48) (6064,-0.45) (6072,-0.49) (6080,-0.44)
(6088,-0.47) (6096,-0.45) (6104,-0.50) (6112,-0.48) (6120,-0.54) (6128,-0.52) (6136,-0.58) (6144,-0.55) (6152,-0.61) (6160,-0.57)
(6168,-0.63) (6176,-0.59) (6184,-0.65) (6192,-0.60) (6200,-0.66) (6208,-0.62) (6216,-0.67) (6224,-0.70) (6232,-0.77) (6240,-0.68)
(6248,-0.72) (6256,-0.64) (6264,-0.69) (6272,-0.62) (6280,-0.66) (6288,-0.61) (6296,-0.65) (6304,-0.60) (6312,-0.64) (6320,-0.62)
(6328,-0.66) (6334,-0.72) (6340,-0.60) (6348,-0.50) (6356,-0.46) (6364,-0.49) (6372,-0.44) (6380,-0.48) (6388,-0.43) (6396,-0.47)
(6404,-0.42) (6412,-0.46) (6420,-0.41) (6428,-0.45) (6436,-0.42) (6444,-0.46) (6452,-0.42) (6460,-0.47) (6466,-0.55) (6472,-0.67)
(6478,-0.50) (6486,-0.43) (6494,-0.46) (6502,-0.41) (6510,-0.44) (6518,-0.40) (6526,-0.43) (6534,-0.39) (6542,-0.44) (6550,-0.40)
(6558,-0.43) (6566,-0.39) (6574,-0.42) (6582,-0.38) (6590,-0.42) (6598,-0.39) (6606,-0.43) (6614,-0.38) (6622,-0.41) (6630,-0.37)
(6638,-0.41) (6646,-0.38) (6654,-0.42) (6662,-0.37) (6670,-0.40) (6678,-0.37) (6686,-0.41) (6694,-0.38) (6702,-0.42) (6710,-0.37)
(6718,-0.40) (6726,-0.36) (6734,-0.40) (6742,-0.37) (6750,-0.41) (6758,-0.37) (6766,-0.40) (6774,-0.36) (6782,-0.39) (6790,-0.36)
(6798,-0.40) (6806,-0.37) (6814,-0.39) (6822,-0.38) (6830,-0.45) (6838,-0.58) (6846,-0.72) (6854,-0.50) (6862,-0.40) (6870,-0.37)
(6878,-0.39) (6886,-0.36) (6894,-0.38) (6902,-0.35) (6910,-0.38) (6918,-0.35) (6926,-0.37) (6934,-0.34) (6942,-0.37) (6950,-0.34)
(6958,-0.36) (6966,-0.33) (6974,-0.36) (6982,-0.33) (6990,-0.35) (6998,-0.32) (7006,-0.35) (7014,-0.31) (7022,-0.34) (7030,-0.37)
(7038,-0.42) (7046,-0.47) (7054,-0.51) (7062,-0.48) (7070,-0.53) (7078,-0.50) (7086,-0.55) (7094,-0.51) (7102,-0.56) (7110,-0.52)
(7118,-0.57) (7126,-0.53) (7134,-0.56) (7142,-0.52) (7150,-0.55) (7158,-0.50) (7166,-0.48) (7174,-0.45) (7182,-0.49) (7190,-0.44)
(7198,-0.47) (7206,-0.43) (7214,-0.46) (7222,-0.42) (7230,-0.45) (7238,-0.41) (7246,-0.44) (7254,-0.40) (7262,-0.43) (7270,-0.39)
(7278,-0.42) (7286,-0.38) (7294,-0.42) (7302,-0.39) (7310,-0.43) (7318,-0.38) (7326,-0.41) (7334,-0.37) (7342,-0.40) (7350,-0.36)
(7358,-0.39) (7366,-0.35) (7374,-0.38) (7382,-0.34) (7390,-0.37) (7398,-0.33) (7406,-0.36) (7414,-0.32) (7422,-0.35) (7430,-0.31)
(7438,-0.34) (7446,-0.31) (7454,-0.33) (7462,-0.30) (7470,-0.34) (7478,-0.31) (7486,-0.33) (7494,-0.30) (7502,-0.34) (7510,-0.31)
(7518,-0.33) (7526,-0.30) (7534,-0.32) (7542,-0.29) (7550,-0.32) (7558,-0.30) (7566,-0.31) (7574,-0.29) (7582,-0.31) (7590,-0.30)
};
% markers
\addplot[only marks, mark=triangle*, mark size=2.2pt, mark options={rotate=180, fill=black, draw=black, line width=0.4pt}] coordinates {(5681,0.65) (5761,0.65) (6340,0.862) (6474,0.862)};
% TiO bars
\addplot[black, line width=0.9pt] coordinates {(6055,-1.088) (6438,-1.088)};
\addplot[black!70, line width=0.9pt] coordinates {(7023,-1.078) (7365,-1.078)};
\node[font=\fontsize{8.3}{10}\selectfont] at (axis cs:7314,1.588) {2007};
\node[font=\fontsize{8.3}{10}\selectfont] at (axis cs:7121,1.24) {2001};
\node[font=\fontsize{8.3}{10}\selectfont] at (axis cs:7032,0.916) {2000 gr7};
\node[font=\fontsize{8.3}{10}\selectfont] at (axis cs:7195,0.205) {2000 gr5};
\node[font=\fontsize{8.3}{10}\selectfont] at (axis cs:4433,-0.567) {HD 167818 K5III};
\node[font=\fontsize{8.3}{10}\selectfont] at (axis cs:5170,-1.347) {HD 210066 M1III};
\node[font=\fontsize{8.3}{10}\selectfont] at (axis cs:6242,-0.973) {TiO};
\node[font=\fontsize{8.3}{10}\selectfont] at (axis cs:7177,-0.96) {TiO};
\end{axis}
\path[use as bounding box] (-92bp,-70bp) rectangle (453bp,380bp);
\end{tikzpicture}
\end{document}
